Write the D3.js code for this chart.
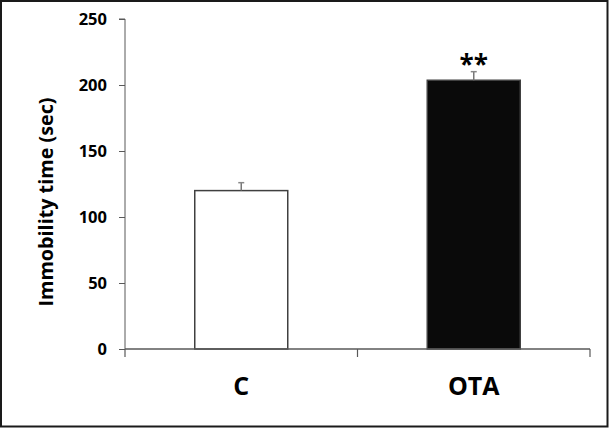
<!DOCTYPE html>
<html><head><meta charset="utf-8">
<script src="https://cdn.jsdelivr.net/npm/d3@7"></script>
<style>body{margin:0;background:#fff}svg{display:block}</style>
</head><body>
<script>
const categories = ["C", "OTA"];
const values = [120, 203.6];
const errors = [6, 6.5];
const yTicks = [0, 50, 100, 150, 200, 250];
const signif = ["", "**"];
const fills = ["#ffffff", "#0a0a0a"];

const W = 609, H = 428;
const svg = d3.select("body").append("svg").attr("width", W).attr("height", H);
svg.append("rect").attr("x", 1).attr("y", 1).attr("width", W - 2.5).attr("height", H - 2.5)
  .attr("fill", "#fff").attr("stroke", "#1a1a1a").attr("stroke-width", 2);

const y = d3.scaleLinear().domain([0, 250]).range([349, 19]);
const x = d3.scaleBand().domain(categories).range([125, 590]).paddingInner(0.6).paddingOuter(0.3);
const font = "'Open Sans', sans-serif";
const axisCol = "#595959";

// Y axis
const yAxis = d3.axisLeft(y).tickValues(yTicks).tickSize(6).tickPadding(12);
const gy = svg.append("g").attr("transform", "translate(125,0)").call(yAxis);
gy.select(".domain").attr("stroke", axisCol).attr("d", `M-6,${y(250)}H0V${y(0)}`);
gy.selectAll(".tick line").attr("stroke", axisCol);
gy.selectAll(".tick text").attr("font-family", font).attr("font-weight", 700)
  .attr("font-size", 16.5).attr("fill", "#000");

// bars
const g = svg.append("g");
g.selectAll("rect.bar").data(categories).join("rect").attr("class", "bar")
  .attr("x", d => x(d)).attr("width", x.bandwidth())
  .attr("y", (d, i) => y(values[i])).attr("height", (d, i) => y(0) - y(values[i]))
  .attr("fill", (d, i) => fills[i]).attr("stroke", "#404040").attr("stroke-width", 1.5);

// error bars
categories.forEach((c, i) => {
  const cx = x(c) + x.bandwidth() / 2;
  g.append("line").attr("x1", cx).attr("x2", cx).attr("y1", y(values[i])).attr("y2", y(values[i] + errors[i]))
    .attr("stroke", "#777").attr("stroke-width", 1.5);
  g.append("line").attr("x1", cx - 3).attr("x2", cx + 3).attr("y1", y(values[i] + errors[i])).attr("y2", y(values[i] + errors[i]))
    .attr("stroke", "#888").attr("stroke-width", 1.5);
  if (signif[i]) {
    g.append("text").attr("x", cx).attr("y", y(values[i] + errors[i]) + 2)
      .attr("text-anchor", "middle").attr("font-family", font).attr("font-weight", 700)
      .attr("font-size", 26).attr("fill", "#000").text(signif[i]);
  }
});

// X axis
const step = x.step();
const bounds = [x.range()[0]].concat(categories.map(c => x(c) + x.bandwidth() + step * x.paddingInner() / 2));
bounds[bounds.length - 1] = x.range()[1];
svg.append("line").attr("x1", 125).attr("x2", 590).attr("y1", y(0)).attr("y2", y(0))
  .attr("stroke", axisCol).attr("stroke-width", 1.5);
svg.selectAll("line.xt").data(bounds).join("line").attr("class", "xt")
  .attr("x1", d => d).attr("x2", d => d).attr("y1", y(0)).attr("y2", y(0) + 8)
  .attr("stroke", axisCol).attr("stroke-width", 1.2);
svg.selectAll("text.xl").data(categories).join("text").attr("class", "xl")
  .attr("x", d => x(d) + x.bandwidth() / 2).attr("y", 395)
  .attr("text-anchor", "middle").attr("font-family", font).attr("font-weight", 700)
  .attr("font-size", 25).attr("fill", "#000").text(d => d);

// Y title
svg.append("text").attr("transform", "translate(53,202) rotate(-90)")
  .attr("text-anchor", "middle").attr("font-family", font).attr("font-weight", 700)
  .attr("font-size", 20).attr("textLength", 209).attr("lengthAdjust", "spacingAndGlyphs")
  .attr("fill", "#000").text("Immobility time (sec)");
</script>
</body></html>
